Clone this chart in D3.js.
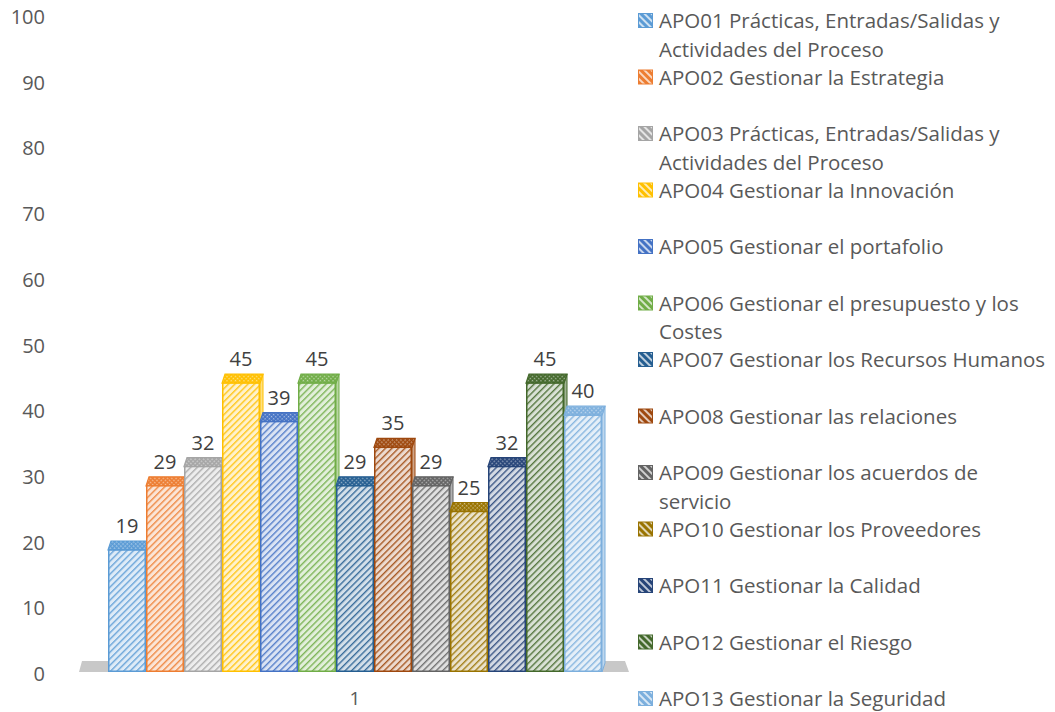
<!DOCTYPE html>
<html>
<head>
<meta charset="utf-8">
<script src="https://cdn.jsdelivr.net/npm/d3@7"></script>
<style>
  html, body { margin: 0; padding: 0; background: #ffffff; }
  svg { display: block; font-family: "Open Sans", "Liberation Sans", sans-serif; }
</style>
</head>
<body>
<svg id="chart" width="1055" height="712"></svg>
<script>
// ---- data ----
const categories = ["1"];
const seriesNames = [
  "APO01 Prácticas, Entradas/Salidas y\nActividades del Proceso",
  "APO02 Gestionar la Estrategia",
  "APO03 Prácticas, Entradas/Salidas y\nActividades del Proceso",
  "APO04 Gestionar la Innovación",
  "APO05 Gestionar el portafolio",
  "APO06 Gestionar el presupuesto y los\nCostes",
  "APO07 Gestionar los Recursos Humanos",
  "APO08 Gestionar las relaciones",
  "APO09 Gestionar los acuerdos de\nservicio",
  "APO10 Gestionar los Proveedores",
  "APO11 Gestionar la Calidad",
  "APO12 Gestionar el Riesgo",
  "APO13 Gestionar la Seguridad"
];
const seriesValues = [19, 29, 32, 45, 39, 45, 29, 35, 29, 25, 32, 45, 40];
const seriesColors = [
  "#5b9bd5", "#ed7d31", "#a5a5a5", "#ffc000", "#4472c4", "#70ad47", "#255e91",
  "#9e480e", "#636363", "#997300", "#264478", "#43682b", "#7cafdd"
];
const yTickValues = [0, 10, 20, 30, 40, 50, 60, 70, 80, 90, 100];

// ---- layout ----
const svg = d3.select("#chart");
const depthX = 3, depthY = -9;          // 3D offset of the back of each column

const y = d3.scaleLinear().domain([0, 100]).range([672, 30]);
const yAxisScale = d3.scaleLinear().domain([0, 100]).range([681, 24]);

const x0 = d3.scaleBand().domain(categories).range([108, 602]).padding(0);
const x1 = d3.scaleBand().domain(d3.range(seriesValues.length)).range([0, x0.bandwidth()]).padding(0);

// ---- patterns ----
const defs = svg.append("defs");
seriesColors.forEach((c, i) => {
  const light = d3.interpolateRgb(c, "#ffffff")(0.8);
  const stripe = d3.interpolateRgb(c, "#ffffff")(0.1);
  const p = defs.append("pattern")
    .attr("id", "hatch" + i)
    .attr("patternUnits", "userSpaceOnUse")
    .attr("width", 4.6).attr("height", 4.6)
    .attr("patternTransform", "rotate(45)");
  p.append("rect").attr("width", 4.6).attr("height", 4.6).attr("fill", light);
  p.append("rect").attr("width", 1.4).attr("height", 4.6).attr("fill", stripe);

  const top = d3.interpolateRgb(c, "#ffffff")(0.55);
  const t = defs.append("pattern")
    .attr("id", "hatchTop" + i)
    .attr("patternUnits", "userSpaceOnUse")
    .attr("width", 3).attr("height", 3)
    .attr("patternTransform", "rotate(45)");
  t.append("rect").attr("width", 3).attr("height", 3).attr("fill", c);
  t.append("rect").attr("width", 1.4).attr("height", 1.4).attr("fill", top);

  const m = defs.append("pattern")
    .attr("id", "hatchKey" + i)
    .attr("patternUnits", "userSpaceOnUse")
    .attr("width", 5).attr("height", 5)
    .attr("patternTransform", "rotate(-45)");
  m.append("rect").attr("width", 5).attr("height", 5).attr("fill", c);
  m.append("rect").attr("width", 2).attr("height", 5).attr("fill", d3.interpolateRgb(c, "#ffffff")(0.7));
});

// ---- floor ----
const fx0 = x0.range()[0], fx1 = x0.range()[1], fy = y(0);
svg.append("path")
  .attr("d", `M${fx0 - 29},${fy} L${fx1 + 27},${fy} L${fx1 + 23},${fy - 11} L${fx0 - 26},${fy - 11} Z`)
  .attr("fill", "#c8c8c8");

// ---- y axis labels ----
svg.append("g").selectAll("text")
  .data(yTickValues)
  .join("text")
  .attr("x", 45)
  .attr("y", d => yAxisScale(d))
  .attr("text-anchor", "end")
  .attr("font-size", 20)
  .attr("fill", "#595959")
  .text(d => d);

// ---- columns ----
const bars = svg.append("g");
categories.forEach(cat => {
  seriesValues.forEach((v, i) => {
    const c = seriesColors[i];
    const xl = x0(cat) + x1(i), xr = xl + x1.bandwidth();
    const yt = y(v), yb = y(0);
    const g = bars.append("g");
    // right side face
    g.append("path")
      .attr("d", `M${xr},${yt} L${xr + depthX},${yt + depthY} L${xr + depthX},${yb + depthY} L${xr},${yb} Z`)
      .attr("fill", d3.interpolateRgb(c, "#ffffff")(0.5))
      .attr("stroke", c).attr("stroke-width", 1);
    // top face
    g.append("path")
      .attr("d", `M${xl},${yt} L${xl + depthX},${yt + depthY} L${xr + depthX},${yt + depthY} L${xr},${yt} Z`)
      .attr("fill", `url(#hatchTop${i})`)
      .attr("stroke", c).attr("stroke-width", 1.2);
    // front face
    g.append("rect")
      .attr("x", xl + 0.75).attr("y", yt)
      .attr("width", x1.bandwidth() - 1.5).attr("height", yb - yt - 0.75)
      .attr("fill", `url(#hatch${i})`)
      .attr("stroke", c).attr("stroke-width", 1.5);
  });
});

// ---- data labels ----
svg.append("g").selectAll("text")
  .data(seriesValues)
  .join("text")
  .attr("x", (d, i) => x0(categories[0]) + x1(i) + x1.bandwidth() / 2)
  .attr("y", d => y(d) - 17)
  .attr("text-anchor", "middle")
  .attr("font-size", 20)
  .attr("fill", "#404040")
  .text(d => d);

// ---- category axis label ----
svg.append("g").selectAll("text")
  .data(categories)
  .join("text")
  .attr("x", d => x0(d) + x0.bandwidth() / 2)
  .attr("y", 705)
  .attr("text-anchor", "middle")
  .attr("font-size", 19)
  .attr("fill", "#595959")
  .text(d => d);

// ---- legend ----
const legend = svg.append("g");
seriesNames.forEach((name, i) => {
  const by = 28 + i * 56.5;
  const g = legend.append("g");
  g.append("rect")
    .attr("x", 638.5).attr("y", by - 14.5)
    .attr("width", 14).attr("height", 14)
    .attr("fill", `url(#hatchKey${i})`)
    .attr("stroke", seriesColors[i]).attr("stroke-width", 1);
  const t = g.append("text")
    .attr("x", 659).attr("y", by)
    .attr("font-size", 20.5)
    .attr("fill", "#595959");
  name.split("\n").forEach((line, k) => {
    t.append("tspan").attr("x", 659).attr("y", by + k * 28.5).text(line);
  });
});
</script>
</body>
</html>
